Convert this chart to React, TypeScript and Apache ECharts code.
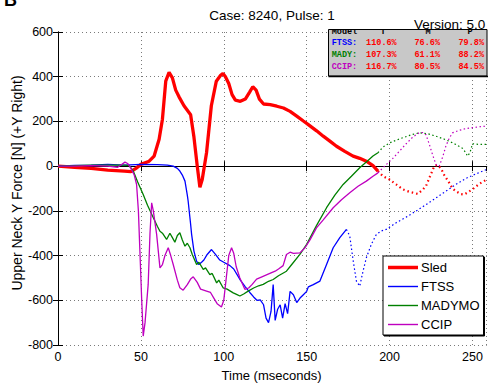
import React, { useEffect, useRef } from "react";
import * as echarts from "echarts";

// ---- Data (time in ms, force in N) ----
const sledSolidT = [0, 10, 20, 30, 40, 44, 47, 50, 55, 58, 61, 63, 65, 67, 69, 71, 73, 76, 78, 80, 82, 84, 85.6, 87, 89.6, 92.5, 95.5, 98, 99.5, 101, 103, 105, 107, 110, 113, 115.5, 117.5, 119.5, 121.5, 124, 128, 132, 136, 140, 144, 148, 151, 156, 160, 164, 168, 173, 178, 182, 186, 190, 193];
const sledSolidV = [0, -5, -10, -18, -22, -25, -10, 8, 22, 45, 120, 210, 380, 420, 395, 340, 310, 270, 250, 230, 130, 0, -95, -60, 60, 270, 380, 405, 415, 400, 370, 320, 295, 290, 300, 330, 355, 340, 300, 278, 275, 268, 260, 245, 224, 202, 186, 158, 134, 112, 89, 66, 45, 35, 22, 2, -22];
const sledDotT = [193, 196, 200, 204, 208, 212, 217, 220, 222, 225, 227, 229, 231, 233, 236, 238, 240, 243, 245, 247, 250, 254, 258.6];
const sledDotV = [-22, -45, -60, -82, -104, -115, -124, -105, -89, -35, 0, 5, -10, -40, -75, -100, -112, -125, -127, -118, -104, -80, -60];

const ftssSolidT = [0, 10, 20, 30, 40, 50, 60, 66, 69.5, 72, 73.5, 75, 76.6, 78, 78.5, 80, 80.6, 82, 83.6, 85, 86.6, 88, 90, 92.6, 95, 97.6, 100, 103.7, 106, 110, 113, 115.7, 118, 120, 122, 124, 125.5, 127, 128.5, 129.8, 131, 132.5, 134, 135.5, 137, 138.5, 140, 142, 144, 146, 148, 150, 151, 154, 158, 162, 166, 170, 174];
const ftssSolidV = [0, 3, 5, 8, 5, 8, 7, 5, 0, -10, -22, -40, -67, -130, -156, -260, -305, -380, -425, -440, -430, -420, -395, -373, -395, -420, -430, -445, -460, -510, -540, -565, -585, -600, -598, -620, -680, -700, -650, -530, -690, -640, -620, -680, -615, -660, -560, -575, -610, -590, -575, -560, -540, -530, -514, -440, -365, -320, -283];
const ftssDotT = [174, 176, 178, 180, 182, 184, 186, 189, 192, 195, 198, 201, 204, 210, 216, 222, 228, 234, 240, 246, 252, 258.6];
const ftssDotV = [-283, -313, -420, -514, -537, -470, -410, -350, -306, -290, -283, -268, -253, -228, -201, -172, -142, -112, -82, -55, -35, -15];

const madySolidT = [0, 10, 20, 30, 40, 43, 45.4, 48, 51.4, 54, 57.5, 60, 61.5, 63, 65.5, 67.5, 69, 70.5, 72, 73.5, 75, 76.6, 78, 79.6, 81, 83.6, 85, 87.6, 89, 91.6, 93, 95.7, 97, 99.6, 102, 105.7, 108, 109.7, 112, 114.7, 118, 121, 123.8, 127, 129.8, 133, 137.8, 141, 145.9, 150, 156, 162, 167, 172, 177, 182, 187, 190, 193];
const madySolidV = [0, 2, 5, 5, 5, 2, -22, -70, -127, -175, -231, -270, -291, -300, -328, -300, -320, -340, -310, -298, -330, -358, -345, -365, -395, -440, -430, -462, -455, -485, -480, -522, -510, -544, -550, -567, -575, -581, -572, -559, -545, -535, -529, -515, -507, -490, -470, -440, -395, -350, -265, -186, -130, -82, -45, -7, 25, 45, 60];
const madyDotT = [193, 196, 200, 204, 208, 213, 218, 223, 228, 234, 240, 244, 246, 247, 248.5, 250, 254, 258.6];
const madyDotV = [60, 85, 104, 116, 127, 140, 149, 145, 134, 118, 97, 80, 60, 45, 60, 100, 97, 97];

const ccipSolidT = [0, 10, 20, 30, 36, 38, 40.4, 42, 44, 46, 47.4, 48.5, 49.4, 50.5, 51.4, 52.5, 54.4, 55.5, 56.5, 57.5, 59.5, 61.5, 63, 64.5, 66.5, 68, 69.5, 72, 73.5, 75.5, 78, 80, 81.6, 84, 86, 89.6, 92, 94, 96, 98.6, 100, 101.5, 103, 104.7, 106, 107.5, 109.7, 112.7, 115, 117, 119.8, 123, 127.8, 131, 133, 135.8, 137.8, 140, 142, 145.9, 149, 152, 155.9, 160, 166, 171, 176, 181, 186, 190, 193];
const ccipSolidV = [0, 0, 2, 0, -5, 5, 18, 12, -10, -40, -82, -200, -380, -600, -760, -700, -529, -300, -164, -200, -305, -455, -440, -400, -365, -400, -440, -510, -544, -555, -530, -505, -495, -520, -550, -559, -565, -590, -615, -630, -600, -500, -400, -365, -390, -450, -500, -551, -545, -530, -505, -495, -480, -470, -460, -445, -395, -385, -390, -388, -365, -330, -276, -240, -186, -150, -119, -90, -67, -45, -30];
const ccipDotT = [193, 198, 202, 206, 210, 214, 218, 220, 222, 224, 226, 228, 230, 232, 234, 236, 238, 242, 246, 250, 254, 258.6];
const ccipDotV = [-30, 7, 35, 67, 100, 130, 150, 150, 140, 97, 50, 7, 0, 40, 90, 125, 149, 160, 168, 172, 176, 179];

const yTicks = { min: -800, max: 600, step: 200 };
const xTicks = { min: 0, max: 258.6, step: 50 };

const legendNames = ["Sled", "FTSS", "MADYMO", "CCIP"];

const tableHeader = ["Model", "T", "M", "P"];
const tableModels = ["FTSS:", "MADY:", "CCIP:"];
const tableT = ["110.6%", "107.3%", "116.7%"];
const tableM = ["76.6%", "61.1%", "80.5%"];
const tableP = ["79.8%", "88.2%", "84.5%"];

const titleText = "Case: 8240, Pulse: 1";
const versionText = "Version: 5.0";

const RED = "#ff0000";
const BLUE = "#0000ff";
const GREEN = "#008000";
const MAG = "#bf00bf";
const FONT = "Liberation Sans";
const MONO = "Liberation Mono";

const pairs = (t: number[], v: number[]) => t.map((x, i) => [x, v[i]]);

export default function App() {
  const ref = useRef<HTMLDivElement>(null);
  useEffect(() => {
    if (!ref.current) return;
    const chart = echarts.init(ref.current, undefined, { renderer: "svg" });

    const axisCommon = {
      axisLine: { show: true, lineStyle: { color: "#000", width: 1 } },
      axisTick: { show: true, inside: true, length: 5, lineStyle: { color: "#000" } },
    };

    const lineSeries = (name: string, data: number[][], color: string, width: number, type: any, z: number) => ({
      type: "line",
      name,
      data,
      xAxisIndex: 0,
      yAxisIndex: 0,
      symbol: "none",
      showSymbol: false,
      color,
      lineStyle: { color, width, type },
      z,
      silent: true,
    });

    const rowY = [43.3, 55, 66.7];
    const modelColors = [BLUE, GREEN, MAG];
    const tableTexts: any[] = [];
    const hx = [331.7, 383, 428, 470];
    tableHeader.forEach((h, i) => {
      tableTexts.push({
        type: "text",
        x: hx[i],
        y: 32,
        z: 101,
        style: { text: h, fill: "#000", font: `bold 8.5px ${MONO}`, align: i === 0 ? "left" : "center", verticalAlign: "middle" },
      });
    });
    tableModels.forEach((m, r) => {
      tableTexts.push({ type: "text", x: 331.7, y: rowY[r], z: 101, style: { text: m, fill: modelColors[r], font: `bold 8.5px ${MONO}`, align: "left", verticalAlign: "middle" } });
      tableTexts.push({ type: "text", x: 396.7, y: rowY[r], z: 101, style: { text: tableT[r], fill: RED, font: `bold 8.5px ${MONO}`, align: "right", verticalAlign: "middle" } });
      tableTexts.push({ type: "text", x: 440, y: rowY[r], z: 101, style: { text: tableM[r], fill: RED, font: `bold 8.5px ${MONO}`, align: "right", verticalAlign: "middle" } });
      tableTexts.push({ type: "text", x: 484, y: rowY[r], z: 101, style: { text: tableP[r], fill: RED, font: `bold 8.5px ${MONO}`, align: "right", verticalAlign: "middle" } });
    });

    const thickIcon = "path://M0,0H30V3.5H0Z";
    const thinIcon = "path://M0,0H30V1.4H0Z";

    chart.setOption({
      animation: false,
      backgroundColor: "#fff",
      textStyle: { fontFamily: FONT },
      grid: { left: 58, top: 32, width: 428.7, height: 313, containLabel: false },
      xAxis: [
        {
          type: "value",
          position: "bottom",
          min: xTicks.min,
          max: xTicks.max,
          interval: xTicks.step,
          ...axisCommon,
          axisLabel: { show: true, showMaxLabel: false, color: "#000", fontSize: 12.5, fontFamily: FONT, margin: 5 },
          splitLine: { show: true, lineStyle: { color: "#7a7a7a", width: 1, type: [1, 3] } },
        },
        {
          type: "value",
          position: "top",
          min: xTicks.min,
          max: xTicks.max,
          interval: xTicks.step,
          ...axisCommon,
          axisLabel: { show: false },
          splitLine: { show: false },
        },
      ],
      yAxis: [
        {
          type: "value",
          position: "left",
          min: yTicks.min,
          max: yTicks.max,
          interval: yTicks.step,
          ...axisCommon,
          axisLabel: { show: true, color: "#000", fontSize: 12.5, fontFamily: FONT, margin: 5 },
          splitLine: { show: true, lineStyle: { color: "#7a7a7a", width: 1, type: [1, 3] } },
        },
        {
          type: "value",
          position: "right",
          min: yTicks.min,
          max: yTicks.max,
          interval: yTicks.step,
          ...axisCommon,
          axisLabel: { show: false },
          splitLine: { show: false },
        },
      ],
      legend: {
        data: legendNames.map((n, i) => ({ name: n, icon: i === 0 ? thickIcon : thinIcon })),
        orient: "vertical",
        left: 383,
        top: 256,
        itemWidth: 30,
        itemHeight: 14,
        itemGap: 6,
        symbolKeepAspect: true,
        padding: [5, 4, 4, 5],
        backgroundColor: "#fff",
        borderColor: "#000",
        borderWidth: 1,
        shadowColor: "#000",
        shadowOffsetX: 1,
        shadowOffsetY: 1,
        shadowBlur: 0,
        selectedMode: false,
        textStyle: { color: "#000", fontSize: 13, fontFamily: FONT, padding: [0, 0, 0, -2] },
        z: 50,
      },
      series: [
        lineSeries("Sled", pairs(sledSolidT, sledSolidV), RED, 3.3, "solid", 2),
        lineSeries("Sled dotted", pairs(sledDotT, sledDotV), RED, 2.2, [1.5, 3], 2),
        lineSeries("FTSS", pairs(ftssSolidT, ftssSolidV), BLUE, 1.3, "solid", 3),
        lineSeries("FTSS dotted", pairs(ftssDotT, ftssDotV), BLUE, 1.2, [1.5, 2.5], 3),
        lineSeries("MADYMO", pairs(madySolidT, madySolidV), GREEN, 1.3, "solid", 4),
        lineSeries("MADYMO dotted", pairs(madyDotT, madyDotV), GREEN, 1.2, [1.5, 2.5], 4),
        lineSeries("CCIP", pairs(ccipSolidT, ccipSolidV), MAG, 1.3, "solid", 5),
        lineSeries("CCIP dotted", pairs(ccipDotT, ccipDotV), MAG, 1.2, [1.5, 2.5], 5),
      ],
      graphic: [
        // stats table
        { type: "rect", z: 100, shape: { x: 328.5, y: 29.5, width: 158.5, height: 46.5 }, style: { fill: "#c8c8c8", stroke: "#000", lineWidth: 1 } },
        { type: "line", z: 100, shape: { x1: 328.5, y1: 76.5, x2: 488, y2: 76.5 }, style: { stroke: "#000", lineWidth: 1.5 } },
        ...tableTexts,
        { type: "rect", z: 102, shape: { x: 326, y: 0, width: 170, height: 29 }, style: { fill: "#fff" } },
        // titles
        { type: "text", z: 103, x: 272, y: 15, style: { text: titleText, fill: "#000", font: `13.5px ${FONT}`, align: "center", verticalAlign: "middle" } },
        { type: "text", z: 103, x: 414, y: 24, style: { text: versionText, fill: "#000", font: `13.5px ${FONT}`, align: "left", verticalAlign: "middle" } },
        { type: "text", z: 103, x: 4, y: 9, style: { text: "B", fill: "#000", font: `bold 18px ${FONT}`, align: "left", verticalAlign: "bottom" } },
        // axis names
        { type: "text", z: 103, x: 271.5, y: 375, style: { text: "Time (mseconds)", fill: "#000", font: `13px ${FONT}`, align: "center", verticalAlign: "middle" } },
        { type: "text", z: 103, x: 17, y: 183, rotation: Math.PI / 2, style: { text: "Upper Neck Y Force [N] (+Y Right)", fill: "#000", font: `14px ${FONT}`, align: "center", verticalAlign: "middle" } },
      ],
    });

    return () => chart.dispose();
  }, []);

  return <div ref={ref} style={{ position: "fixed", left: 0, top: 0, width: 488, height: 386, background: "#fff" }} />;
}
